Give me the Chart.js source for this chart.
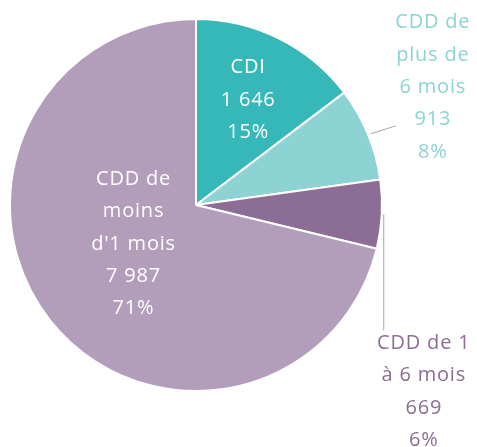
<!DOCTYPE html>
<html>
<head>
<meta charset="utf-8">
<script src="https://cdn.jsdelivr.net/npm/chart.js@4"></script>
<style>
  html, body { margin: 0; padding: 0; background: #fff; }
  #wrap { width: 477px; height: 447px; }
</style>
</head>
<body>
<div id="wrap"><canvas id="c" width="477" height="447"></canvas></div>
<script>
// ---- data ----
const categories = ['CDI', 'CDD de plus de 6 mois', 'CDD de 1 à 6 mois', "CDD de moins d'1 mois"];
const values = [1646, 913, 669, 7987];
const percentLabels = ['15%', '8%', '6%', '71%'];
const nameLines = [['CDI'], ['CDD de', 'plus de', '6 mois'], ['CDD de 1', 'à 6 mois'], ['CDD de', 'moins', "d'1 mois"]];
const sliceColors = ['#36B8B8', '#8DD3D4', '#8C6D95', '#B29EBA'];

function fmt(v) { return String(v).replace(/\B(?=(\d{3})+(?!\d))/g, ' '); }

// label placement (layout only)
const placement = [
  { mode: 'in', rf: 0.63, dx: 0, dy: 0, color: '#ffffff' },
  { mode: 'out', color: '#8DD3D4', lead: [[3, 0], [28, -8]], tx: 37, ty: -103 },
  { mode: 'out', color: '#8C6D95', lead: [[2, 0], [2, 116]], tx: 40, ty: 13 },
  { mode: 'in', rf: 0.40, dx: -4, dy: -7, color: '#ffffff' }
];

const LINE_H = 32.3;
const labelPlugin = {
  id: 'sliceLabels',
  afterDatasetsDraw(chart) {
    const ctx = chart.ctx;
    const meta = chart.getDatasetMeta(0);
    ctx.save();
    ctx.font = '20px "Open Sans"';
    ctx.letterSpacing = '0.8px';
    ctx.textAlign = 'center';
    ctx.textBaseline = 'middle';
    meta.data.forEach((arc, i) => {
      const p = placement[i];
      const lines = nameLines[i].concat([fmt(values[i]), percentLabels[i]]);
      const mid = (arc.startAngle + arc.endAngle) / 2;
      const R = arc.outerRadius;
      ctx.fillStyle = p.color;
      if (p.mode === 'in') {
        const cx = arc.x + Math.cos(mid) * R * p.rf + p.dx;
        const cy = arc.y + Math.sin(mid) * R * p.rf + p.dy;
        const y0 = cy - (lines.length - 1) * LINE_H / 2;
        lines.forEach((t, k) => ctx.fillText(t, cx, y0 + k * LINE_H));
      } else {
        const ex = arc.x + Math.cos(mid) * R;
        const ey = arc.y + Math.sin(mid) * R;
        ctx.strokeStyle = '#A6A6A6';
        ctx.lineWidth = 1;
        ctx.beginPath();
        ctx.moveTo(ex + p.lead[0][0], ey + p.lead[0][1]);
        ctx.lineTo(ex + p.lead[1][0], ey + p.lead[1][1]);
        ctx.stroke();
        const lx = ex + p.lead[1][0], ly = ey + p.lead[1][1];
        const cx = lx + p.tx;
        const y0 = ly + p.ty;
        lines.forEach((t, k) => ctx.fillText(t, cx, y0 + k * LINE_H));
      }
    });
    ctx.restore();
  }
};

new Chart(document.getElementById('c'), {
  type: 'pie',
  data: {
    labels: categories,
    datasets: [{
      data: values,
      backgroundColor: sliceColors,
      borderColor: '#ffffff',
      borderWidth: 2
    }]
  },
  options: {
    responsive: false,
    animation: false,
    layout: { padding: { left: 9, right: 94, top: 18, bottom: 55 } },
    plugins: { legend: { display: false }, tooltip: { enabled: false } }
  },
  plugins: [labelPlugin]
});
</script>
</body>
</html>
